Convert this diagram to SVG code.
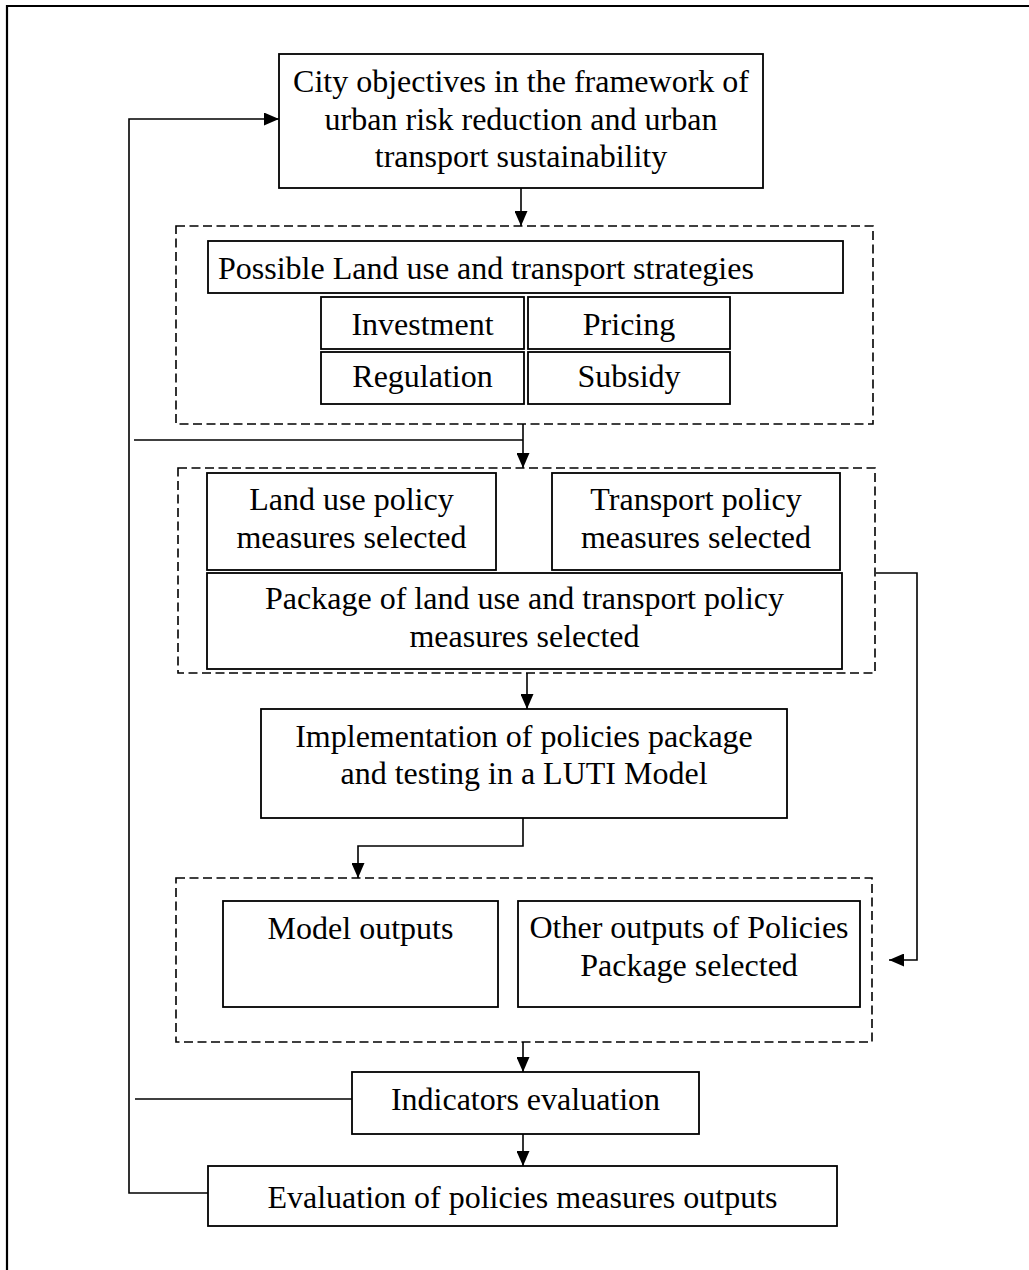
<svg xmlns="http://www.w3.org/2000/svg" width="1029" height="1270" viewBox="0 0 1029 1270">
<style>
  .box { fill: #ffffff; stroke: #000000; stroke-width: 1.8; }
  .dash { fill: none; stroke: #000000; stroke-width: 1.6; stroke-dasharray: 9 4.5; }
  .conn { fill: none; stroke: #000000; stroke-width: 1.6; }
  .frame { fill: none; stroke: #000000; stroke-width: 2.2; }
  text { font-family: "Liberation Serif", "Times New Roman", serif; font-size: 32px; fill: #000000; }
  .c { text-anchor: middle; }
</style>
<defs>
  <marker id="arrow" markerUnits="userSpaceOnUse" viewBox="0 0 15 13" markerWidth="15" markerHeight="13" refX="15" refY="6.5" orient="auto">
    <path d="M0,0 L15,6.5 L0,13 Z" fill="#000000"/>
  </marker>
</defs>
<rect width="1029" height="1270" fill="#ffffff"/>
<g id="frame">
  <path class="frame" d="M7,1270 L7,6 L1029,6"/>
</g>
<g id="connectors">
  <path class="conn" d="M521,188 L521,226" marker-end="url(#arrow)"/>
  <path class="conn" d="M523,424 L523,468" marker-end="url(#arrow)"/>
  <path class="conn" d="M134,440 L523,440"/>
  <path class="conn" d="M876,573 L917,573 L917,960 L889,960" marker-end="url(#arrow)"/>
  <path class="conn" d="M527,673 L527,709" marker-end="url(#arrow)"/>
  <path class="conn" d="M523,818 L523,846 L358,846 L358,878" marker-end="url(#arrow)"/>
  <path class="conn" d="M523,1042 L523,1072" marker-end="url(#arrow)"/>
  <path class="conn" d="M352,1099 L135,1099"/>
  <path class="conn" d="M523,1134 L523,1166" marker-end="url(#arrow)"/>
  <path class="conn" d="M208,1193 L129,1193 L129,119 L279,119" marker-end="url(#arrow)"/>
</g>
<g id="city-objectives">
  <rect class="box" x="279" y="54" width="484" height="134"/>
  <text class="c" x="521" y="92">City objectives in the framework of</text>
  <text class="c" x="521" y="129.5">urban risk reduction and urban</text>
  <text class="c" x="521" y="167">transport sustainability</text>
</g>
<g id="strategies-group">
  <rect class="dash" x="176" y="226" width="697" height="198"/>
</g>
<g id="possible-strategies">
  <rect class="box" x="208" y="241" width="635" height="52"/>
  <text x="218" y="279">Possible Land use and transport strategies</text>
</g>
<g id="investment">
  <rect class="box" x="321" y="297" width="203" height="52"/>
  <text class="c" x="422.5" y="335">Investment</text>
</g>
<g id="pricing">
  <rect class="box" x="528" y="297" width="202" height="52"/>
  <text class="c" x="629" y="335">Pricing</text>
</g>
<g id="regulation">
  <rect class="box" x="321" y="352" width="203" height="52"/>
  <text class="c" x="422.5" y="387">Regulation</text>
</g>
<g id="subsidy">
  <rect class="box" x="528" y="352" width="202" height="52"/>
  <text class="c" x="629" y="387">Subsidy</text>
</g>
<g id="measures-group">
  <rect class="dash" x="178" y="468" width="697" height="205"/>
</g>
<g id="land-use-measures">
  <rect class="box" x="207" y="473" width="289" height="97"/>
  <text class="c" x="351.5" y="510">Land use policy</text>
  <text class="c" x="351.5" y="548">measures selected</text>
</g>
<g id="transport-measures">
  <rect class="box" x="552" y="473" width="288" height="97"/>
  <text class="c" x="696" y="510">Transport policy</text>
  <text class="c" x="696" y="548">measures selected</text>
</g>
<g id="package">
  <rect class="box" x="207" y="573" width="635" height="96"/>
  <text class="c" x="524.5" y="609">Package of land use and transport policy</text>
  <text class="c" x="524.5" y="647">measures selected</text>
</g>
<g id="implementation">
  <rect class="box" x="261" y="709" width="526" height="109"/>
  <text class="c" x="524" y="747">Implementation of policies package</text>
  <text class="c" x="524" y="784">and testing in a LUTI Model</text>
</g>
<g id="outputs-group">
  <rect class="dash" x="176" y="878" width="696" height="164"/>
</g>
<g id="model-outputs">
  <rect class="box" x="223" y="901" width="275" height="106"/>
  <text class="c" x="360.5" y="939">Model outputs</text>
</g>
<g id="other-outputs">
  <rect class="box" x="518" y="901" width="342" height="106"/>
  <text class="c" x="689" y="938">Other outputs of Policies</text>
  <text class="c" x="689" y="976">Package selected</text>
</g>
<g id="indicators">
  <rect class="box" x="352" y="1072" width="347" height="62"/>
  <text class="c" x="525.5" y="1110">Indicators evaluation</text>
</g>
<g id="evaluation">
  <rect class="box" x="208" y="1166" width="629" height="60"/>
  <text class="c" x="522.5" y="1208">Evaluation of policies measures outputs</text>
</g>
</svg>
